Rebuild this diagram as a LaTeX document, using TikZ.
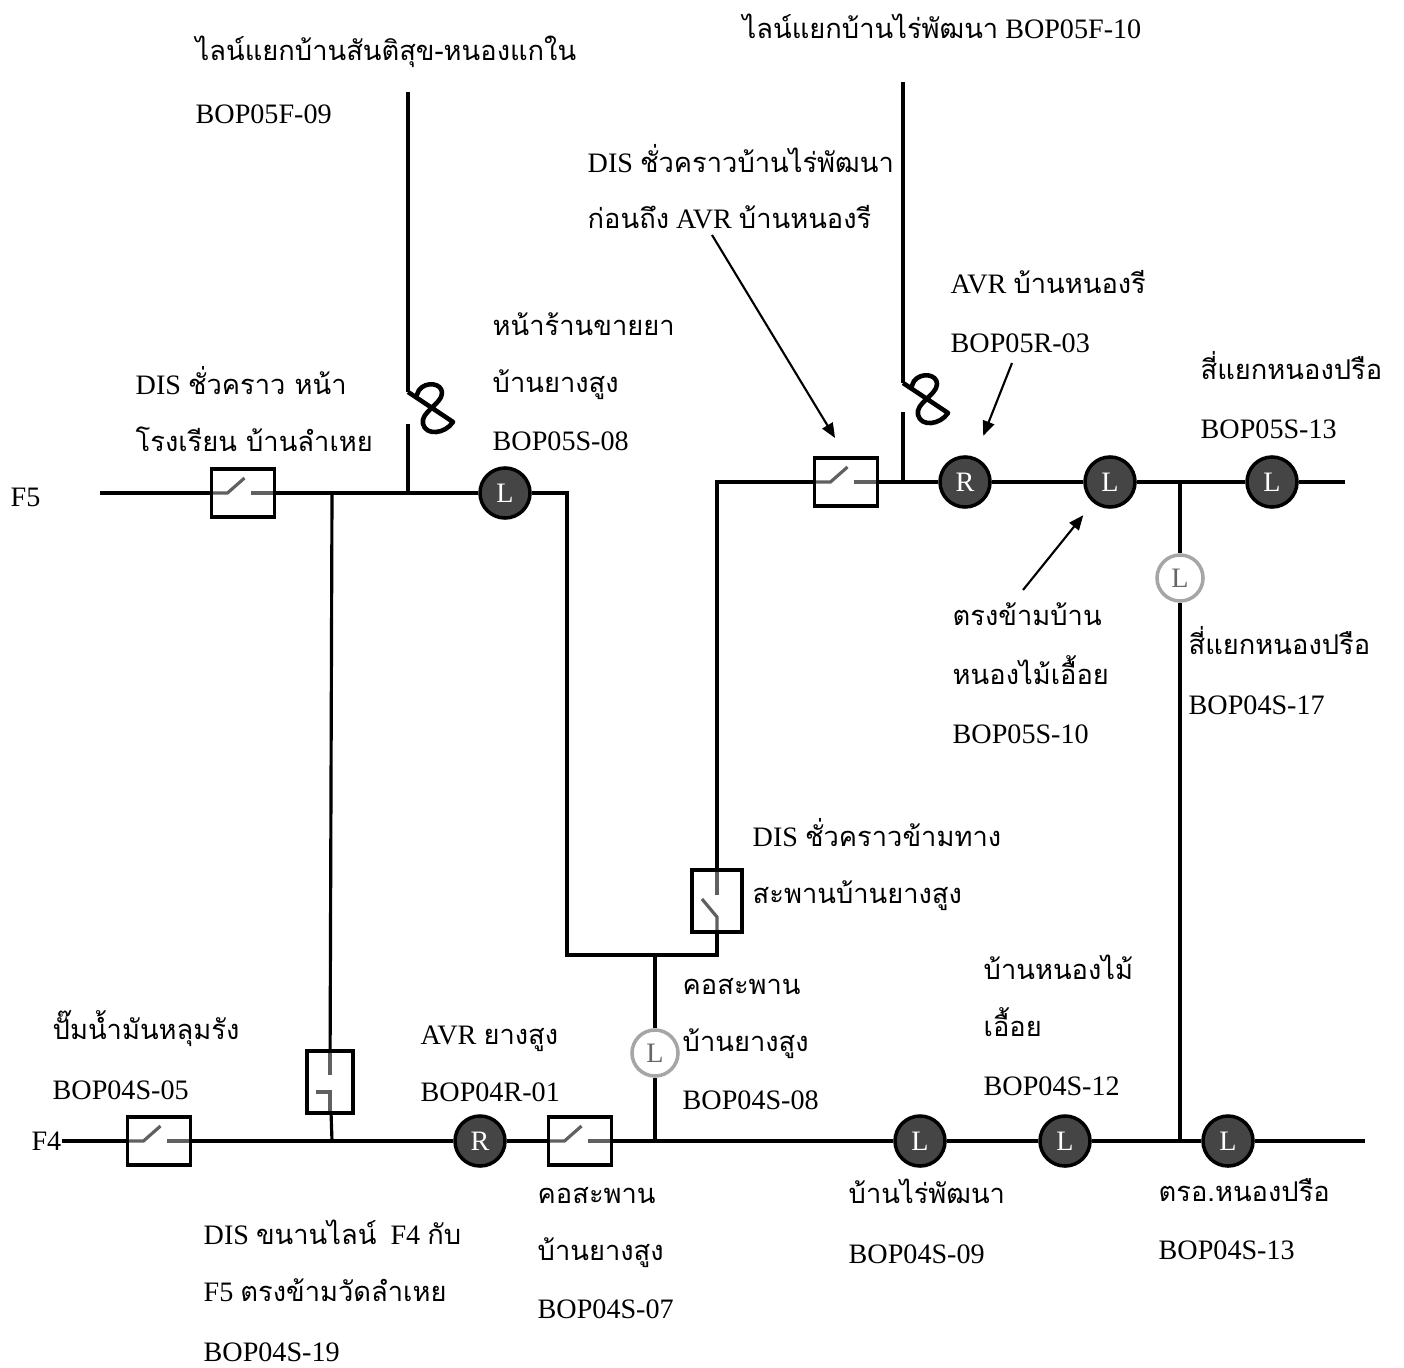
\documentclass[tikz,border=0pt]{standalone}
\usepackage{fontspec}
\setmainfont{Liberation Serif}
\newfontfamily\thaifont[Script=Thai,Scale=0.97]{Loma}
\newcommand\tha[1]{{\thaifont #1}}
\usetikzlibrary{positioning, arrows.meta}
\definecolor{lbsgray}{gray}{0.27}
\tikzset{
bus/.style={line width=0.9pt}, % Feeder lines
blade/.style={line width=0.9pt, gray!75!black}, % Inside of a switch box
lbl/.style={anchor=base west, inner sep=0pt, font=\fontsize{8}{10}\selectfont},
lbs/.style={ % Load break switch, closed
circle, draw, line width=1pt, fill=lbsgray, text=white,
minimum size=0.5cm, inner sep=0pt, font=\fontsize{8}{8}\selectfont},
lbsopen/.style={ % Load break switch, open
circle, draw=gray!70, line width=1pt, fill=white, text=gray!80!black,
minimum size=0.46cm, inner sep=0pt, font=\fontsize{8}{8}\selectfont},
hsw/.style={ % Disconnecting switch on a horizontal line
draw, line width=1.1pt, fill=white, minimum width=0.63cm, minimum height=0.48cm, inner sep=0pt,
path picture={
\draw[blade] (path picture bounding box.west) -- ++(0.16cm,0) -- ++(0.17cm,0.15cm);
\draw[blade] (path picture bounding box.east) -- ++(-0.24cm,0);}},
vsw/.style={ % Disconnecting switch on a vertical line
draw, line width=1.1pt, fill=white, minimum width=0.46cm, minimum height=0.62cm, inner sep=0pt,
path picture={
\draw[blade] (path picture bounding box.north) -- ++(0,-0.24cm);
\draw[blade] (path picture bounding box.south) -- ++(0,0.21cm) -- ++(-0.14cm,0);}},
vswb/.style={
draw, line width=1.1pt, fill=white, minimum width=0.5cm, minimum height=0.62cm, inner sep=0pt,
path picture={
\draw[blade] (path picture bounding box.north) -- ++(0,-0.25cm);
\draw[blade] (path picture bounding box.south) -- ++(0,0.15cm) -- ++(-0.15cm,0.18cm);}},
arr/.style={line width=0.6pt, -{Triangle[length=4.2pt,width=3.4pt]}},
fuse/.pic={
\draw[line width=1.3pt, line join=round] (0,0) -- (45,30) .. controls (37,42) and (18,44) .. (15,32)
.. controls (12,20) and (34,12) .. (34,1) .. controls (34,-9) and (18,-11) .. (11,-2) -- (8,5);}
}

\begin{document}
\begin{tikzpicture}[x=0.01cm, y=-0.01cm]
\useasboundingbox (0,0) rectangle (1404,1367);

% F5
\node[lbl] (f5) at (10,506) {F5};
\coordinate (f5end) at (100,493);
\node[hsw] (sw1) at (243,493) {};
\coordinate (j1) at (332,493);
\coordinate (j2) at (408,493);
\node[lbs] (L1) at (505,493) {L};
\coordinate (c1) at (567,955);
\coordinate (j3) at (655,955);
\node[vswb] (sw3) at (717,901) {};
\node[hsw] (sw2) at (846,482) {};
\coordinate (j4) at (903,482);
\node[lbs] (R2) at (965,482) {R};
\node[lbs] (L2) at (1110,482) {L};
\coordinate (j5) at (1180,482);
\node[lbs] (L3) at (1272,482) {L};
\coordinate (f5r) at (1345,482);

% tap lines
\coordinate (t1) at (408,92);
\coordinate (t1b) at (408,392);
\coordinate (t1c) at (408,424);
\coordinate (t2) at (903,82);
\coordinate (t2b) at (903,383);
\coordinate (t2c) at (903,412);

% F4
\node[lbl, anchor=east] (f4) at (62,1141) {F4};
\node[hsw] (sw4) at (159,1141) {};
\coordinate (j6) at (332,1141);
\node[vsw] (sw6) at (330,1082) {};
\node[lbs] (R1) at (480,1141) {R};
\node[hsw] (sw5) at (580,1141) {};
\coordinate (j3b) at (655,1141);
\node[lbsopen] (Lo1) at (655,1053) {L};
\node[lbs] (L4) at (920,1141) {L};
\node[lbs] (L5) at (1065,1141) {L};
\coordinate (j7) at (1180,1141);
\node[lbsopen] (Lo2) at (1180,578) {L};
\node[lbs] (L6) at (1228,1141) {L};
\coordinate (f4r) at (1365,1141);

\draw[bus] (f5end) -- (sw1) -- (j1) -- (j2) -- (L1);
\draw[bus] (L1) -| (c1) -- (j3) -| (sw3);
\draw[bus] (sw3) |- (sw2);
\draw[bus] (sw2) -- (j4) -- (R2) -- (L2) -- (j5) -- (L3) -- (f5r);
\draw[bus] (t1) -- (t1b);
\draw[bus] (t1c) -- (j2);
\draw[bus] (t2) -- (t2b);
\draw[bus] (t2c) -- (j4);
\pic at (t1b) {fuse};
\pic at (t2b) {fuse};
\draw[bus] (f4.east) -- (sw4) -- (j6) -- (R1) -- (sw5) -- (j3b) -- (L4) -- (L5) -- (j7) -- (L6) -- (f4r);
\draw[bus] (j1) -- (sw6) -- (j6);
\draw[bus] (j3) -- (Lo1) -- (j3b);
\draw[bus] (j5) -- (Lo2) -- (j7);

% arrows
\coordinate (a1) at (712,235);
\coordinate (a2) at (1012,363);
\coordinate (a3) at (1023,590);
\draw[arr, shorten >=6pt] (a1) -- (sw2.north);
\draw[arr, shorten >=6.5pt] (a2) -- (R2);
\draw[arr, shorten >=4.5pt] (a3) -- (L2);

% labels
\node[lbl] (n1) at (195,61) {\tha{ไลน์แยกบ้านสันติสุข-หนองแกใน}};
\node[lbl] (n2) at (195,124) {BOP05F-09};
\node[lbl] (n3) at (742,39) {\tha{ไลน์แยกบ้านไร่พัฒนา} BOP05F-10};
\node[lbl] (n4) at (587,173) {DIS \tha{ชั่วคราวบ้านไร่พัฒนา}};
\node[lbl] (n5) at (587,229) {\tha{ก่อนถึง} AVR \tha{บ้านหนองรี}};
\node[lbl] (n6) at (950,294) {AVR \tha{บ้านหนองรี}};
\node[lbl] (n7) at (950,352) {BOP05R-03};
\node[lbl] (n8) at (492,336) {\tha{หน้าร้านขายยา}};
\node[lbl] (n9) at (492,392) {\tha{บ้านยางสูง}};
\node[lbl] (n10) at (492,450) {BOP05S-08};
\node[lbl] (n11) at (135,394) {DIS \tha{ชั่วคราว หน้า}};
\node[lbl] (n12) at (135,451) {\tha{โรงเรียน บ้านลำเหย}};
\node[lbl] (n13) at (1200,379) {\tha{สี่แยกหนองปรือ}};
\node[lbl] (n14) at (1200,438) {BOP05S-13};
\node[lbl] (n15) at (952,625) {\tha{ตรงข้ามบ้าน}};
\node[lbl] (n16) at (952,684) {\tha{หนองไม้เอื้อย}};
\node[lbl] (n17) at (952,743) {BOP05S-10};
\node[lbl] (n18) at (1188,654) {\tha{สี่แยกหนองปรือ}};
\node[lbl] (n19) at (1188,714) {BOP04S-17};
\node[lbl] (n20) at (752,846) {DIS \tha{ชั่วคราวข้ามทาง}};
\node[lbl] (n21) at (752,903) {\tha{สะพานบ้านยางสูง}};
\node[lbl] (n22) at (682,994) {\tha{คอสะพาน}};
\node[lbl] (n23) at (682,1051) {\tha{บ้านยางสูง}};
\node[lbl] (n24) at (682,1109) {BOP04S-08};
\node[lbl] (n25) at (983,979) {\tha{บ้านหนองไม้}};
\node[lbl] (n26) at (983,1036) {\tha{เอื้อย}};
\node[lbl] (n27) at (983,1095) {BOP04S-12};
\node[lbl] (n28) at (52,1039) {\tha{ปั๊มน้ำมันหลุมรัง}};
\node[lbl] (n29) at (52,1099) {BOP04S-05};
\node[lbl] (n30) at (420,1044) {AVR \tha{ยางสูง}};
\node[lbl] (n31) at (420,1101) {BOP04R-01};
\node[lbl] (n32) at (537,1203) {\tha{คอสะพาน}};
\node[lbl] (n33) at (537,1260) {\tha{บ้านยางสูง}};
\node[lbl] (n34) at (537,1318) {BOP04S-07};
\node[lbl] (n35) at (203,1244) {DIS \tha{ขนานไลน์}\ \ F4 \tha{กับ}};
\node[lbl] (n36) at (203,1301) {F5 \tha{ตรงข้ามวัดลำเหย}};
\node[lbl] (n37) at (203,1361) {BOP04S-19};
\node[lbl] (n38) at (848,1203) {\tha{บ้านไร่พัฒนา}};
\node[lbl] (n39) at (848,1263) {BOP04S-09};
\node[lbl] (n40) at (1158,1201) {\tha{ตรอ.หนองปรือ}};
\node[lbl] (n41) at (1158,1259) {BOP04S-13};
\end{tikzpicture}
\end{document}
